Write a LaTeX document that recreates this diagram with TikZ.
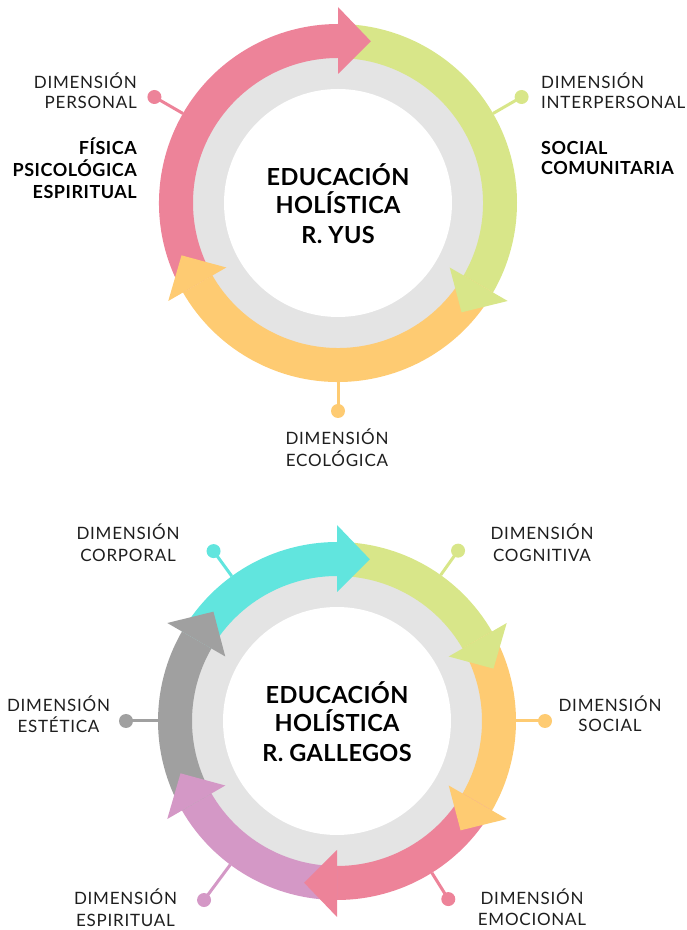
\documentclass[tikz,border=0pt]{standalone}
\usepackage{fontspec}
\setmainfont{Lato}
\newfontfamily\lblfont[LetterSpace=4.5]{Lato}
\newfontfamily\bldfont[LetterSpace=3,UprightFont=* Bold]{Lato}
\newfontfamily\ttlfont[LetterSpace=1.5,UprightFont=* Bold]{Lato}
\definecolor{cpink}{HTML}{ED8399}
\definecolor{cgreen}{HTML}{D8E689}
\definecolor{corange}{HTML}{FECB72}
\definecolor{ccyan}{HTML}{61E5DE}
\definecolor{cpurple}{HTML}{D498C6}
\definecolor{cgrey}{HTML}{A0A0A0}
\definecolor{cring}{HTML}{E4E4E4}
\definecolor{ctext}{HTML}{1E1E1E}
\newcommand\ringband[3]{\fill[#1] (#2:179pt) arc[start angle=#2,end angle=#3,radius=179pt] -- (#3:145pt) arc[start angle=#3,end angle=#2,radius=145pt] -- cycle;}
\newcommand\ringhead[2]{\fill[#1] (#2:129pt) -- (#2:196pt) -- ({#2-11.5}:165pt) -- cycle;}
\tikzset{
  lbl/.style={font=\lblfont\fontsize{17}{20}\selectfont, text=ctext, inner sep=0pt},
  blbl/.style={font=\bldfont\fontsize{18}{22}\selectfont, text=black, inner sep=0pt},
  ctitle/.style={font=\ttlfont\fontsize{23.5}{28}\selectfont, text=black, inner sep=0pt},
  dotnode/.style={circle, inner sep=0pt, minimum size=14pt},
  conn/.style={line width=3pt},
}
\begin{document}
\begin{tikzpicture}[x=1pt,y=1pt]
\useasboundingbox (0,0) rectangle (687,930);
% ---------- top circle ----------
\begin{scope}[shift={(338,727)}]
  \fill[cring] (0,0) circle[radius=147pt];
  \fill[white] (0,0) circle[radius=114pt];
  \ringband{cpink}{210}{90}
  \ringband{cgreen}{90}{-30}
  \ringband{corange}{-30}{-150}
  \ringhead{cpink}{90}
  \ringhead{cgreen}{-30}
  \ringhead{corange}{210}
  \coordinate (ta) at (150:179pt);
  \coordinate (tb) at (30:179pt);
  \coordinate (tc) at (-90:179pt);
  \node[dotnode, fill=cpink] (tda) at (150:212pt) {};
  \node[dotnode, fill=cgreen] (tdb) at (30:212pt) {};
  \node[dotnode, fill=corange] (tdc) at (-90:208pt) {};
  \draw[conn, cpink] (ta) -- (tda.center);
  \draw[conn, cgreen] (tb) -- (tdb.center);
  \draw[conn, corange] (tc) -- (tdc.center);
\end{scope}
\node[ctitle, anchor=base] (t1) at (338,744.8) {EDUCACIÓN};
\node[ctitle, anchor=base] (t2) at (338,716.5) {HOLÍSTICA};
\node[ctitle, anchor=base] (t3) at (338,686.5) {R. YUS};
\node[lbl, anchor=base east] (pa1) at (137,841.6) {DIMENSIÓN};
\node[lbl, anchor=base east] (pa2) at (137,821.0) {PERSONAL};
\node[blbl, anchor=base east] (pb1) at (137,775.5) {FÍSICA};
\node[blbl, anchor=base east] (pb2) at (137,753.5) {PSICOLÓGICA};
\node[blbl, anchor=base east] (pb3) at (137,731.5) {ESPIRITUAL};
\node[lbl, anchor=base west] (ia1) at (541,841.6) {DIMENSIÓN};
\node[lbl, anchor=base west] (ia2) at (541,821.0) {INTERPERSONAL};
\node[blbl, anchor=base west] (ib1) at (541,775.5) {SOCIAL};
\node[blbl, anchor=base west] (ib2) at (541,755.5) {COMUNITARIA};
\node[lbl, anchor=base] (ea1) at (337,485.6) {DIMENSIÓN};
\node[lbl, anchor=base] (ea2) at (337,463.6) {ECOLÓGICA};
% ---------- bottom circle ----------
\begin{scope}[shift={(337,209)}]
  \fill[cring] (0,0) circle[radius=147pt];
  \fill[white] (0,0) circle[radius=114pt];
  \ringband{ccyan}{150}{90}
  \ringband{cgreen}{90}{30}
  \ringband{corange}{30}{-30}
  \ringband{cpink}{-30}{-90}
  \ringband{cpurple}{-90}{-150}
  \ringband{cgrey}{210}{150}
  \ringhead{ccyan}{90}
  \ringhead{cgreen}{30}
  \ringhead{corange}{-30}
  \ringhead{cpink}{-90}
  \ringhead{cpurple}{-150}
  \ringhead{cgrey}{150}
  \coordinate (ba) at (126:179pt);
  \coordinate (bb) at (54.6:179pt);
  \coordinate (bc) at (0:179pt);
  \coordinate (bd) at (-58:179pt);
  \coordinate (be) at (-126.6:179pt);
  \coordinate (bf) at (180:179pt);
  \node[dotnode, fill=ccyan] (bda) at (126:210pt) {};
  \node[dotnode, fill=cgreen] (bdb) at (54.6:209pt) {};
  \node[dotnode, fill=corange] (bdc) at (0:208pt) {};
  \node[dotnode, fill=cpink] (bdd) at (-58:210pt) {};
  \node[dotnode, fill=cpurple] (bde) at (-126.6:223pt) {};
  \node[dotnode, fill=cgrey] (bdf) at (180:211pt) {};
  \draw[conn, ccyan] (ba) -- (bda.center);
  \draw[conn, cgreen] (bb) -- (bdb.center);
  \draw[conn, corange] (bc) -- (bdc.center);
  \draw[conn, cpink] (bd) -- (bdd.center);
  \draw[conn, cpurple] (be) -- (bde.center);
  \draw[conn, cgrey] (bf) -- (bdf.center);
\end{scope}
\node[ctitle, anchor=base] (g1) at (337,226.5) {EDUCACIÓN};
\node[ctitle, anchor=base] (g2) at (337,198.5) {HOLÍSTICA};
\node[ctitle, anchor=base] (g3) at (337,168.5) {R. GALLEGOS};
\node[lbl, anchor=base] (ca1) at (128,390.6) {DIMENSIÓN};
\node[lbl, anchor=base] (ca2) at (128,368.0) {CORPORAL};
\node[lbl, anchor=base] (na1) at (542,390.6) {DIMENSIÓN};
\node[lbl, anchor=base] (na2) at (542,368.0) {COGNITIVA};
\node[lbl, anchor=base] (sa1) at (610,218.6) {DIMENSIÓN};
\node[lbl, anchor=base] (sa2) at (610,198.0) {SOCIAL};
\node[lbl, anchor=base] (sta1) at (58.5,218.6) {DIMENSIÓN};
\node[lbl, anchor=base] (sta2) at (58.5,197.0) {ESTÉTICA};
\node[lbl, anchor=base] (spa1) at (125.5,25.3) {DIMENSIÓN};
\node[lbl, anchor=base] (spa2) at (125.5,4.0) {ESPIRITUAL};
\node[lbl, anchor=base] (ema1) at (532,25.3) {DIMENSIÓN};
\node[lbl, anchor=base] (ema2) at (532,5.0) {EMOCIONAL};
\end{tikzpicture}
\end{document}
